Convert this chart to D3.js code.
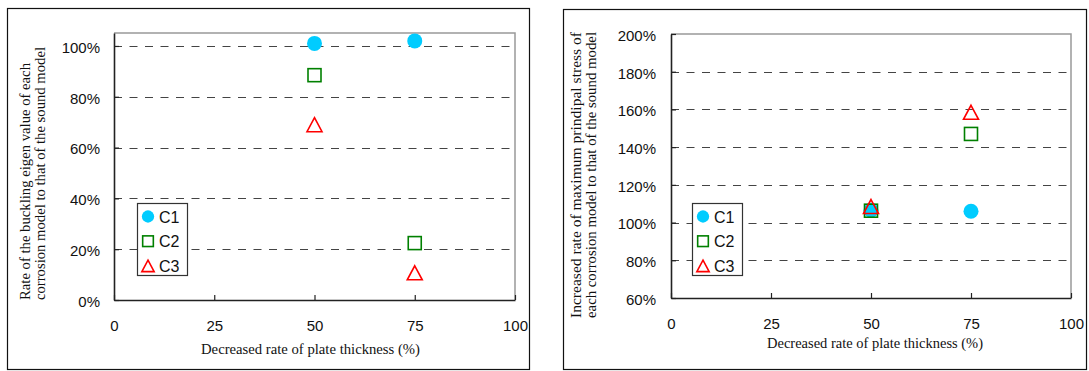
<!DOCTYPE html>
<html>
<head>
<meta charset="utf-8">
<script src="https://cdn.jsdelivr.net/npm/d3@7"></script>
<style>
  body { margin: 0; background: #fff; }
  .tick text { font-family: "Liberation Sans", Arial, sans-serif; font-size: 15px; fill: #111; }
  .title { font-family: "Liberation Serif", "Times New Roman", serif; font-size: 15px; fill: #111; }
  .legend text { font-family: "Liberation Sans", Arial, sans-serif; font-size: 16px; fill: #111; }
</style>
</head>
<body>
<svg width="1089" height="371"></svg>
<script>
// x values shared by both charts
var xValues = [50, 75];
var xTicks = [0, 25, 50, 75, 100];
var seriesNames = ["C1", "C2", "C3"];

// left chart: buckling eigen value ratio
var buckC1 = [1.01, 1.02];
var buckC2 = [0.885, 0.224];
var buckC3 = [0.69, 0.107];
var buckTicks = [0, 0.2, 0.4, 0.6, 0.8, 1.0];

// right chart: max principal stress ratio
var stressC1 = [1.065, 1.06];
var stressC2 = [1.063, 1.47];
var stressC3 = [1.085, 1.585];
var stressTicks = [0.6, 0.8, 1.0, 1.2, 1.4, 1.6, 1.8, 2.0];

var svg = d3.select("svg");
var fmt = d3.format(".0%");

function triangle(w, h) {
  return "M0," + (-h / 2) + "L" + (w / 2) + "," + (h / 2) + "L" + (-w / 2) + "," + (h / 2) + "Z";
}

function drawMarker(sel, i, k) {
  k = k || 1;
  if (i == 0) {
    sel.append("circle").attr("r", 7.5 * k).attr("fill", "#00ccff");
  } else if (i == 1) {
    sel.append("rect")
        .attr("x", -6.5 * k).attr("y", -6.5 * k)
        .attr("width", 13 * k).attr("height", 13 * k)
        .attr("fill", "none").attr("stroke", "#008000").attr("stroke-width", 1.6);
  } else {
    sel.append("path")
        .attr("d", triangle(15 * k, 14 * k))
        .attr("fill", "none").attr("stroke", "#ff0000").attr("stroke-width", 1.6);
  }
}

function drawPanel(p) {
  // outer frame
  svg.append("rect")
      .attr("x", p.frame[0] + 0.5).attr("y", p.frame[1] + 0.5)
      .attr("width", p.frame[2] - p.frame[0]).attr("height", p.frame[3] - p.frame[1])
      .attr("fill", "none").attr("stroke", "#111").attr("stroke-width", 1.2);

  var x = d3.scaleLinear().domain([0, 100]).range([p.left, p.right]);
  var y = d3.scaleLinear().domain(p.yDomain).range([p.bottom, p.top]);

  // top and right plot border (gray)
  svg.append("path")
      .attr("d", "M" + p.left + "," + p.top + "H" + p.right + "V" + p.bottom)
      .attr("fill", "none").attr("stroke", "#999").attr("stroke-width", 1.5);

  // dashed gridlines
  svg.append("g").selectAll("line")
    .data(p.yTicks.filter(function(d) { return d > p.yDomain[0] && d < p.yDomain[1] - 1e-9; }))
    .enter().append("line")
      .attr("x1", p.left).attr("x2", p.right)
      .attr("y1", function(d) { return Math.round(y(d)) + 0.5; })
      .attr("y2", function(d) { return Math.round(y(d)) + 0.5; })
      .attr("stroke", "#444").attr("stroke-width", 1.1)
      .attr("stroke-dasharray", "8,7.5");

  var yAxis = svg.append("g")
      .attr("transform", "translate(" + p.left + ",0)")
      .call(d3.axisLeft(y).tickValues(p.yTicks).tickFormat(fmt).tickSize(-5).tickSizeOuter(0).tickPadding(p.yPad));
  var xAxis = svg.append("g")
      .attr("transform", "translate(0," + p.bottom + ")")
      .call(d3.axisBottom(x).tickValues(xTicks).tickSize(-5).tickSizeOuter(0).tickPadding(20));
  [yAxis, xAxis].forEach(function(a) {
    a.select(".domain").attr("stroke", "#222").attr("stroke-width", 1.6);
    a.selectAll(".tick line").attr("stroke", "#222").attr("stroke-width", 1.2);
    a.attr("font-family", null).attr("font-size", null);
  });
  yAxis.selectAll(".tick text").attr("dy", "0.42em");

  // axis titles
  svg.append("text").attr("class", "title")
      .attr("x", p.xTitle[0]).attr("y", p.xTitle[1])
      .attr("textLength", p.xTitle[2]).attr("lengthAdjust", "spacingAndGlyphs")
      .text("Decreased rate of plate thickness (%)");
  p.yTitle.forEach(function(t) {
    svg.append("text").attr("class", "title")
        .attr("transform", "translate(" + t.x + "," + t.y + ") rotate(-90)")
        .attr("textLength", t.len).attr("lengthAdjust", "spacingAndGlyphs")
        .text(t.text);
  });

  // points
  p.series.forEach(function(vals, i) {
    var g = svg.append("g");
    vals.forEach(function(v, j) {
      var m = g.append("g").attr("transform", "translate(" + x(xValues[j]) + "," + y(v) + ")");
      drawMarker(m, i);
    });
  });

  // legend
  var lg = svg.append("g").attr("class", "legend")
      .attr("transform", "translate(" + p.legend[0] + "," + p.legend[1] + ")");
  lg.append("rect")
      .attr("x", 0.5).attr("y", 0.5).attr("width", 50).attr("height", 72)
      .attr("fill", "#fff").attr("stroke", "#333").attr("stroke-width", 1.2);
  seriesNames.forEach(function(name, i) {
    var row = lg.append("g").attr("transform", "translate(11," + (13.5 + i * 24.7) + ")");
    drawMarker(row, i, 0.82);
    row.append("text").attr("x", 11).attr("y", 6).text(name);
  });
}

drawPanel({
  frame: [7, 8, 529, 369],
  left: 114, right: 515, top: 33, bottom: 300,
  yDomain: [0, 1.051], yTicks: buckTicks, yPad: 14,
  series: [buckC1, buckC2, buckC3],
  xTitle: [201, 354, 219],
  yTitle: [
    {x: 30, y: 300, len: 237, text: "Rate of the buckling eigen value of each"},
    {x: 45, y: 300, len: 253, text: "corrosion model to that of the sound model"}
  ],
  legend: [137, 203]
});

drawPanel({
  frame: [563, 9, 1086, 369],
  left: 671, right: 1071, top: 34, bottom: 298,
  yDomain: [0.6, 2.0], yTicks: stressTicks, yPad: 15,
  series: [stressC1, stressC2, stressC3],
  xTitle: [767, 348, 216],
  yTitle: [
    {x: 581, y: 318, len: 286, text: "Increased rate of maximum prindipal stress of"},
    {x: 596, y: 318, len: 286, text: "each corrosion model to that of the sound model"}
  ],
  legend: [692, 203]
});
</script>
</body>
</html>
